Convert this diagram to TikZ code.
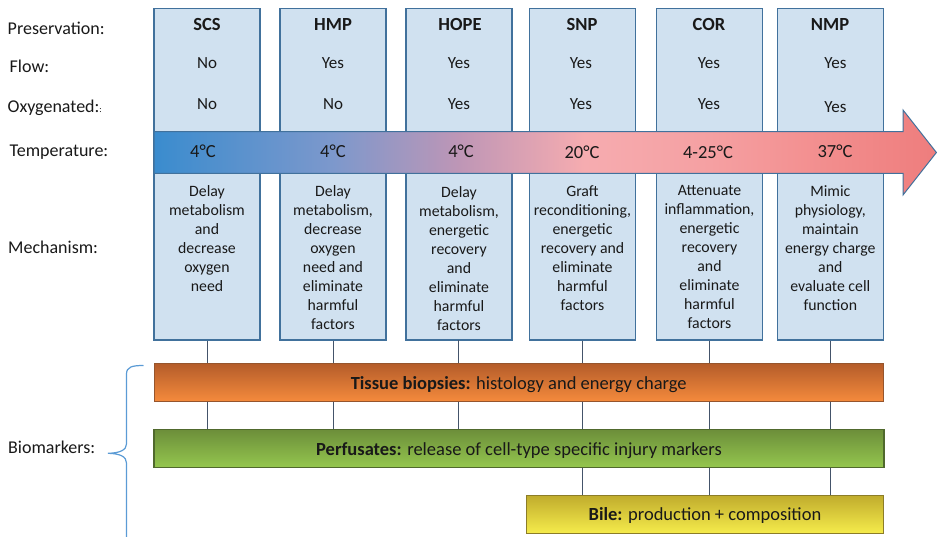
\documentclass[tikz,border=0pt]{standalone}
\usepackage{fontspec}
\setmainfont{Carlito}
\definecolor{boxfill}{RGB}{208,225,240}
\definecolor{boxline}{RGB}{65,113,156}
\definecolor{connc}{RGB}{68,84,106}
\definecolor{bracec}{RGB}{91,155,213}
\definecolor{textc}{RGB}{25,25,25}
\definecolor{ga}{RGB}{58,140,206}
\definecolor{gb}{RGB}{125,152,204}
\definecolor{gc}{RGB}{190,150,182}
\definecolor{gd}{RGB}{246,172,176}
\definecolor{ge}{RGB}{245,160,162}
\definecolor{gf}{RGB}{242,140,140}
\definecolor{gg}{RGB}{238,125,125}
\definecolor{tisstop}{RGB}{180,92,42}
\definecolor{tissbot}{RGB}{244,138,60}
\definecolor{tissline}{RGB}{150,85,45}
\definecolor{perftop}{RGB}{108,142,58}
\definecolor{perfbot}{RGB}{148,198,78}
\definecolor{perfline}{RGB}{80,105,45}
\definecolor{biletop}{RGB}{192,172,45}
\definecolor{bilebot}{RGB}{245,235,75}
\definecolor{bileline}{RGB}{140,125,40}
\pgfdeclarehorizontalshading{tempgrad}{100bp}{color(0bp)=(ga); color(25bp)=(ga); color(36.5bp)=(gb); color(44.5bp)=(gc); color(52.5bp)=(gd); color(60.5bp)=(ge); color(68.5bp)=(gf); color(75bp)=(gg); color(100bp)=(gg)}
\begin{document}
\begin{tikzpicture}[x=1pt,y=-1pt,
  every node/.style={text=textc},
  colbox/.style={draw=boxline, fill=boxfill, line width=1.1pt, minimum width=106pt, minimum height=331.7pt, inner sep=0pt},
  rowlab/.style={anchor=base west, inner sep=0pt, font=\fontsize{18}{21}\selectfont},
  head/.style={anchor=base, inner sep=0pt, font=\fontsize{18.5}{21}\selectfont\bfseries},
  yn/.style={anchor=base, inner sep=0pt, font=\fontsize{17}{20}\selectfont},
  temp/.style={anchor=base, inner sep=0pt, font=\fontsize{18.5}{21}\selectfont},
  mech/.style={anchor=north, inner sep=0pt, align=center, font=\fontsize{15.8}{19}\selectfont},
  bar/.style={line width=1.1pt, minimum height=37.7pt, inner sep=0pt},
  bartext/.style={anchor=base, inner sep=0pt, font=\fontsize{18.5}{21}\selectfont},
  conn/.style={draw=connc, line width=0.9pt}]
\useasboundingbox (0,0) rectangle (937,537);

% column boxes
\node[colbox] (scs)  at (207,174.15) {};
\node[colbox] (hmp)  at (333,174.15) {};
\node[colbox] (hope) at (459,174.15) {};
\node[colbox] (snp)  at (582.5,174.15) {};
\node[colbox] (cor)  at (709.5,174.15) {};
\node[colbox] (nmp)  at (830.3,174.15) {};

% temperature arrow
\shadedraw[shading=tempgrad, draw=boxline, line width=1pt]
  (154,131.7) -- (903,131.7) -- (903,110) -- (936.4,152.5) -- (903,195) -- (903,173.3) -- (154,173.3) -- cycle;

% row labels
\node[rowlab] (lpres) at (7.5,34.3) {Preservation:};
\node[rowlab] (lflow) at (9.5,72.7) {Flow:};
\node[rowlab] (loxy)  at (7.5,112.7) {Oxygenated:{\fontsize{9}{9}\selectfont :}};
\node[rowlab] (ltemp) at (9.5,156.7) {Temperature:};
\node[rowlab] (lmech) at (8,254) {Mechanism:};
\node[rowlab] (lbio)  at (8,453) {Biomarkers:};

% headers
\node[head] (scs-h)  at (207,30.7) {SCS};
\node[head] (hmp-h)  at (333,30.7) {HMP};
\node[head] (hope-h) at (460,30.7) {HOPE};
\node[head] (snp-h)  at (582,30.7) {SNP};
\node[head] (cor-h)  at (709,30.7) {COR};
\node[head] (nmp-h)  at (830,30.7) {NMP};

% flow
\node[yn] (scs-f)  at (207,69) {No};
\node[yn] (hmp-f)  at (333,69) {Yes};
\node[yn] (hope-f) at (459,69) {Yes};
\node[yn] (snp-f)  at (581,69) {Yes};
\node[yn] (cor-f)  at (709,69) {Yes};
\node[yn] (nmp-f)  at (835.5,69) {Yes};

% oxygenated
\node[yn] (scs-o)  at (207,110) {No};
\node[yn] (hmp-o)  at (333,110) {No};
\node[yn] (hope-o) at (459,110) {Yes};
\node[yn] (snp-o)  at (581,110) {Yes};
\node[yn] (cor-o)  at (709,110) {Yes};
\node[yn] (nmp-o)  at (835.5,112.3) {Yes};

% temperature
\node[temp] (scs-t)  at (203,157.5) {4°C};
\node[temp] (hmp-t)  at (333,158) {4°C};
\node[temp] (hope-t) at (461,158) {4°C};
\node[temp] (snp-t)  at (582,158.5) {20°C};
\node[temp] (cor-t)  at (708,158.5) {4-25°C};
\node[temp] (nmp-t)  at (835,158) {37°C};

% mechanism
\node[mech] (scs-m)  at (207,185.3) {Delay\\metabolism\\and\\decrease\\oxygen\\need};
\node[mech] (hmp-m)  at (333,185.3) {Delay\\metabolism,\\decrease\\oxygen\\need and\\eliminate\\harmful\\factors};
\node[mech] (hope-m) at (459,186) {Delay\\metabolism,\\energetic\\recovery\\and\\eliminate\\harmful\\factors};
\node[mech] (snp-m)  at (582.5,185.3) {Graft\\reconditioning,\\energetic\\recovery and\\eliminate\\harmful\\factors};
\node[mech] (cor-m)  at (709.5,185) {Attenuate\\inflammation,\\energetic\\recovery\\and\\eliminate\\harmful\\factors};
\node[mech] (nmp-m)  at (830.3,185) {Mimic\\physiology,\\maintain\\energy charge\\and\\evaluate cell\\function};

% biomarker bars
\node[bar, draw=tissline, top color=tisstop, bottom color=tissbot, minimum width=729pt] (tissue) at (518.7,382.2) {};
\node[bar, draw=perfline, top color=perftop, bottom color=perfbot, minimum width=730pt] (perf) at (519,448.3) {};
\node[bar, draw=bileline, top color=biletop, bottom color=bilebot, minimum width=356.5pt] (bile) at (705,514.2) {};
\node[bartext] (tissue-t) at (518.7,389.3) {\textbf{Tissue biopsies:} histology and energy charge};
\node[bartext] (perf-t) at (519,455) {\textbf{Perfusates:} release of cell-type specific injury markers};
\node[bartext] (bile-t) at (705,520.7) {\textbf{Bile:} production + composition};

% connectors
\foreach \c in {scs,hmp,snp,cor,nmp}{
  \draw[conn] (\c.south) -- (\c.south |- tissue.north);
  \draw[conn] (\c.south |- tissue.south) -- (\c.south |- perf.north);
}
\coordinate (hopex) at (458.3,340);
\draw[conn] (hopex) -- (hopex |- tissue.north);
\draw[conn] (hopex |- tissue.south) -- (hopex |- perf.north);
\foreach \c in {snp,cor,nmp}{
  \draw[conn] (\c.south |- perf.south) -- (\c.south |- bile.north);
}

% brace
\draw[bracec, line width=1.2pt]
  (143.5,365.5) .. controls (132,365.5) and (126.5,367) .. (126.5,374)
  -- (126.5,444) .. controls (126.5,450) and (120,453) .. (108,453.3)
  .. controls (120,453.6) and (126.5,456.5) .. (126.5,463)
  -- (126.5,540);
\end{tikzpicture}
\end{document}
